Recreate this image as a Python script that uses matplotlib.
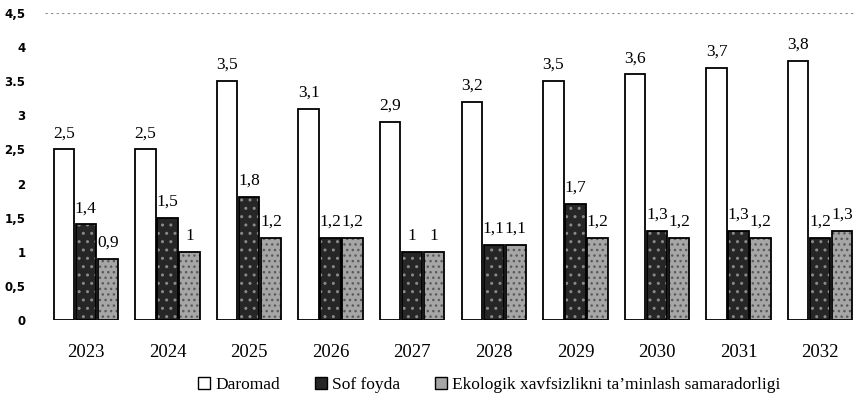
import numpy as np
import matplotlib.pyplot as plt
from matplotlib.patches import Patch

years = ['2023', '2024', '2025', '2026', '2027', '2028', '2029', '2030', '2031', '2032']
daromad = [2.5, 2.5, 3.5, 3.1, 2.9, 3.2, 3.5, 3.6, 3.7, 3.8]
sof_foyda = [1.4, 1.5, 1.8, 1.2, 1.0, 1.1, 1.7, 1.3, 1.3, 1.2]
ekologik = [0.9, 1.0, 1.2, 1.2, 1.0, 1.1, 1.2, 1.2, 1.2, 1.3]
series_names = ['Daromad', 'Sof foyda', 'Ekologik xavfsizlikni ta\u2019minlash samaradorligi']
yticks = [0, 0.5, 1, 1.5, 2, 2.5, 3, 3.5, 4, 4.5]
ytick_labels = ['0', '0,5', '1', '1,5', '2', '2,5', '3', '3.5', '4', '4,5']

serif = 'Liberation Serif'

fig = plt.figure(figsize=(8.55, 4.05), dpi=100)
ax = fig.add_axes([45 / 855, 85 / 405, 816 / 855, 307 / 405])

x = np.arange(len(years))
w = 0.25
off = 0.27

# Daromad: white bars, black outline
ax.bar(x - off, daromad, w, color='white', edgecolor='black', linewidth=1.3, zorder=3)

# Sof foyda: dark speckled bars
ax.bar(x, sof_foyda, w, color='#262626', edgecolor='#8a8a8a', linewidth=0, hatch='..', zorder=3)
ax.bar(x, sof_foyda, w, fill=False, edgecolor='black', linewidth=1.3, zorder=4)

# Ekologik: light grey speckled bars
ax.bar(x + off, ekologik, w, color='#a6a6a6', edgecolor='#5a5a5a', linewidth=0, hatch='...', zorder=3)
ax.bar(x + off, ekologik, w, fill=False, edgecolor='black', linewidth=1.3, zorder=4)

def fmt(v):
    s = ('%.1f' % v).rstrip('0').rstrip('.')
    return s.replace('.', ',')

for vals, dx in [(daromad, -off), (sof_foyda, 0), (ekologik, off)]:
    for xi, v in zip(x, vals):
        ax.text(xi + dx, v + 0.12, fmt(v), ha='center', va='bottom',
                fontsize=12.5, family=serif, color='black', zorder=5)

ax.axhline(4.5, color='#888888', lw=0.8, ls=(0, (2, 3)), zorder=1)

ax.set_xlim(-0.5, 9.5)
ax.set_ylim(0, 4.5)
ax.set_yticks(yticks)
ax.set_yticklabels(ytick_labels, fontsize=8.5, fontweight='bold')
ax.set_xticks(x)
ax.set_xticklabels(years, fontsize=13.5, family=serif)
ax.tick_params(axis='y', length=0, pad=14)
ax.tick_params(axis='x', length=0, pad=17)
for s in ax.spines.values():
    s.set_visible(False)

handles = [
    Patch(facecolor='white', edgecolor='black', linewidth=1.0),
    Patch(facecolor='#262626', edgecolor='black', linewidth=1.0),
    Patch(facecolor='#a6a6a6', edgecolor='black', linewidth=1.0),
]
fig.legend(handles, series_names, loc='center', bbox_to_anchor=(0.572, 0.05),
           ncol=3, frameon=False, prop={'family': serif, 'size': 12.5},
           handlelength=0.7, handleheight=0.7, handletextpad=0.3, columnspacing=2.0)

fig.savefig('out.png', dpi=100)
